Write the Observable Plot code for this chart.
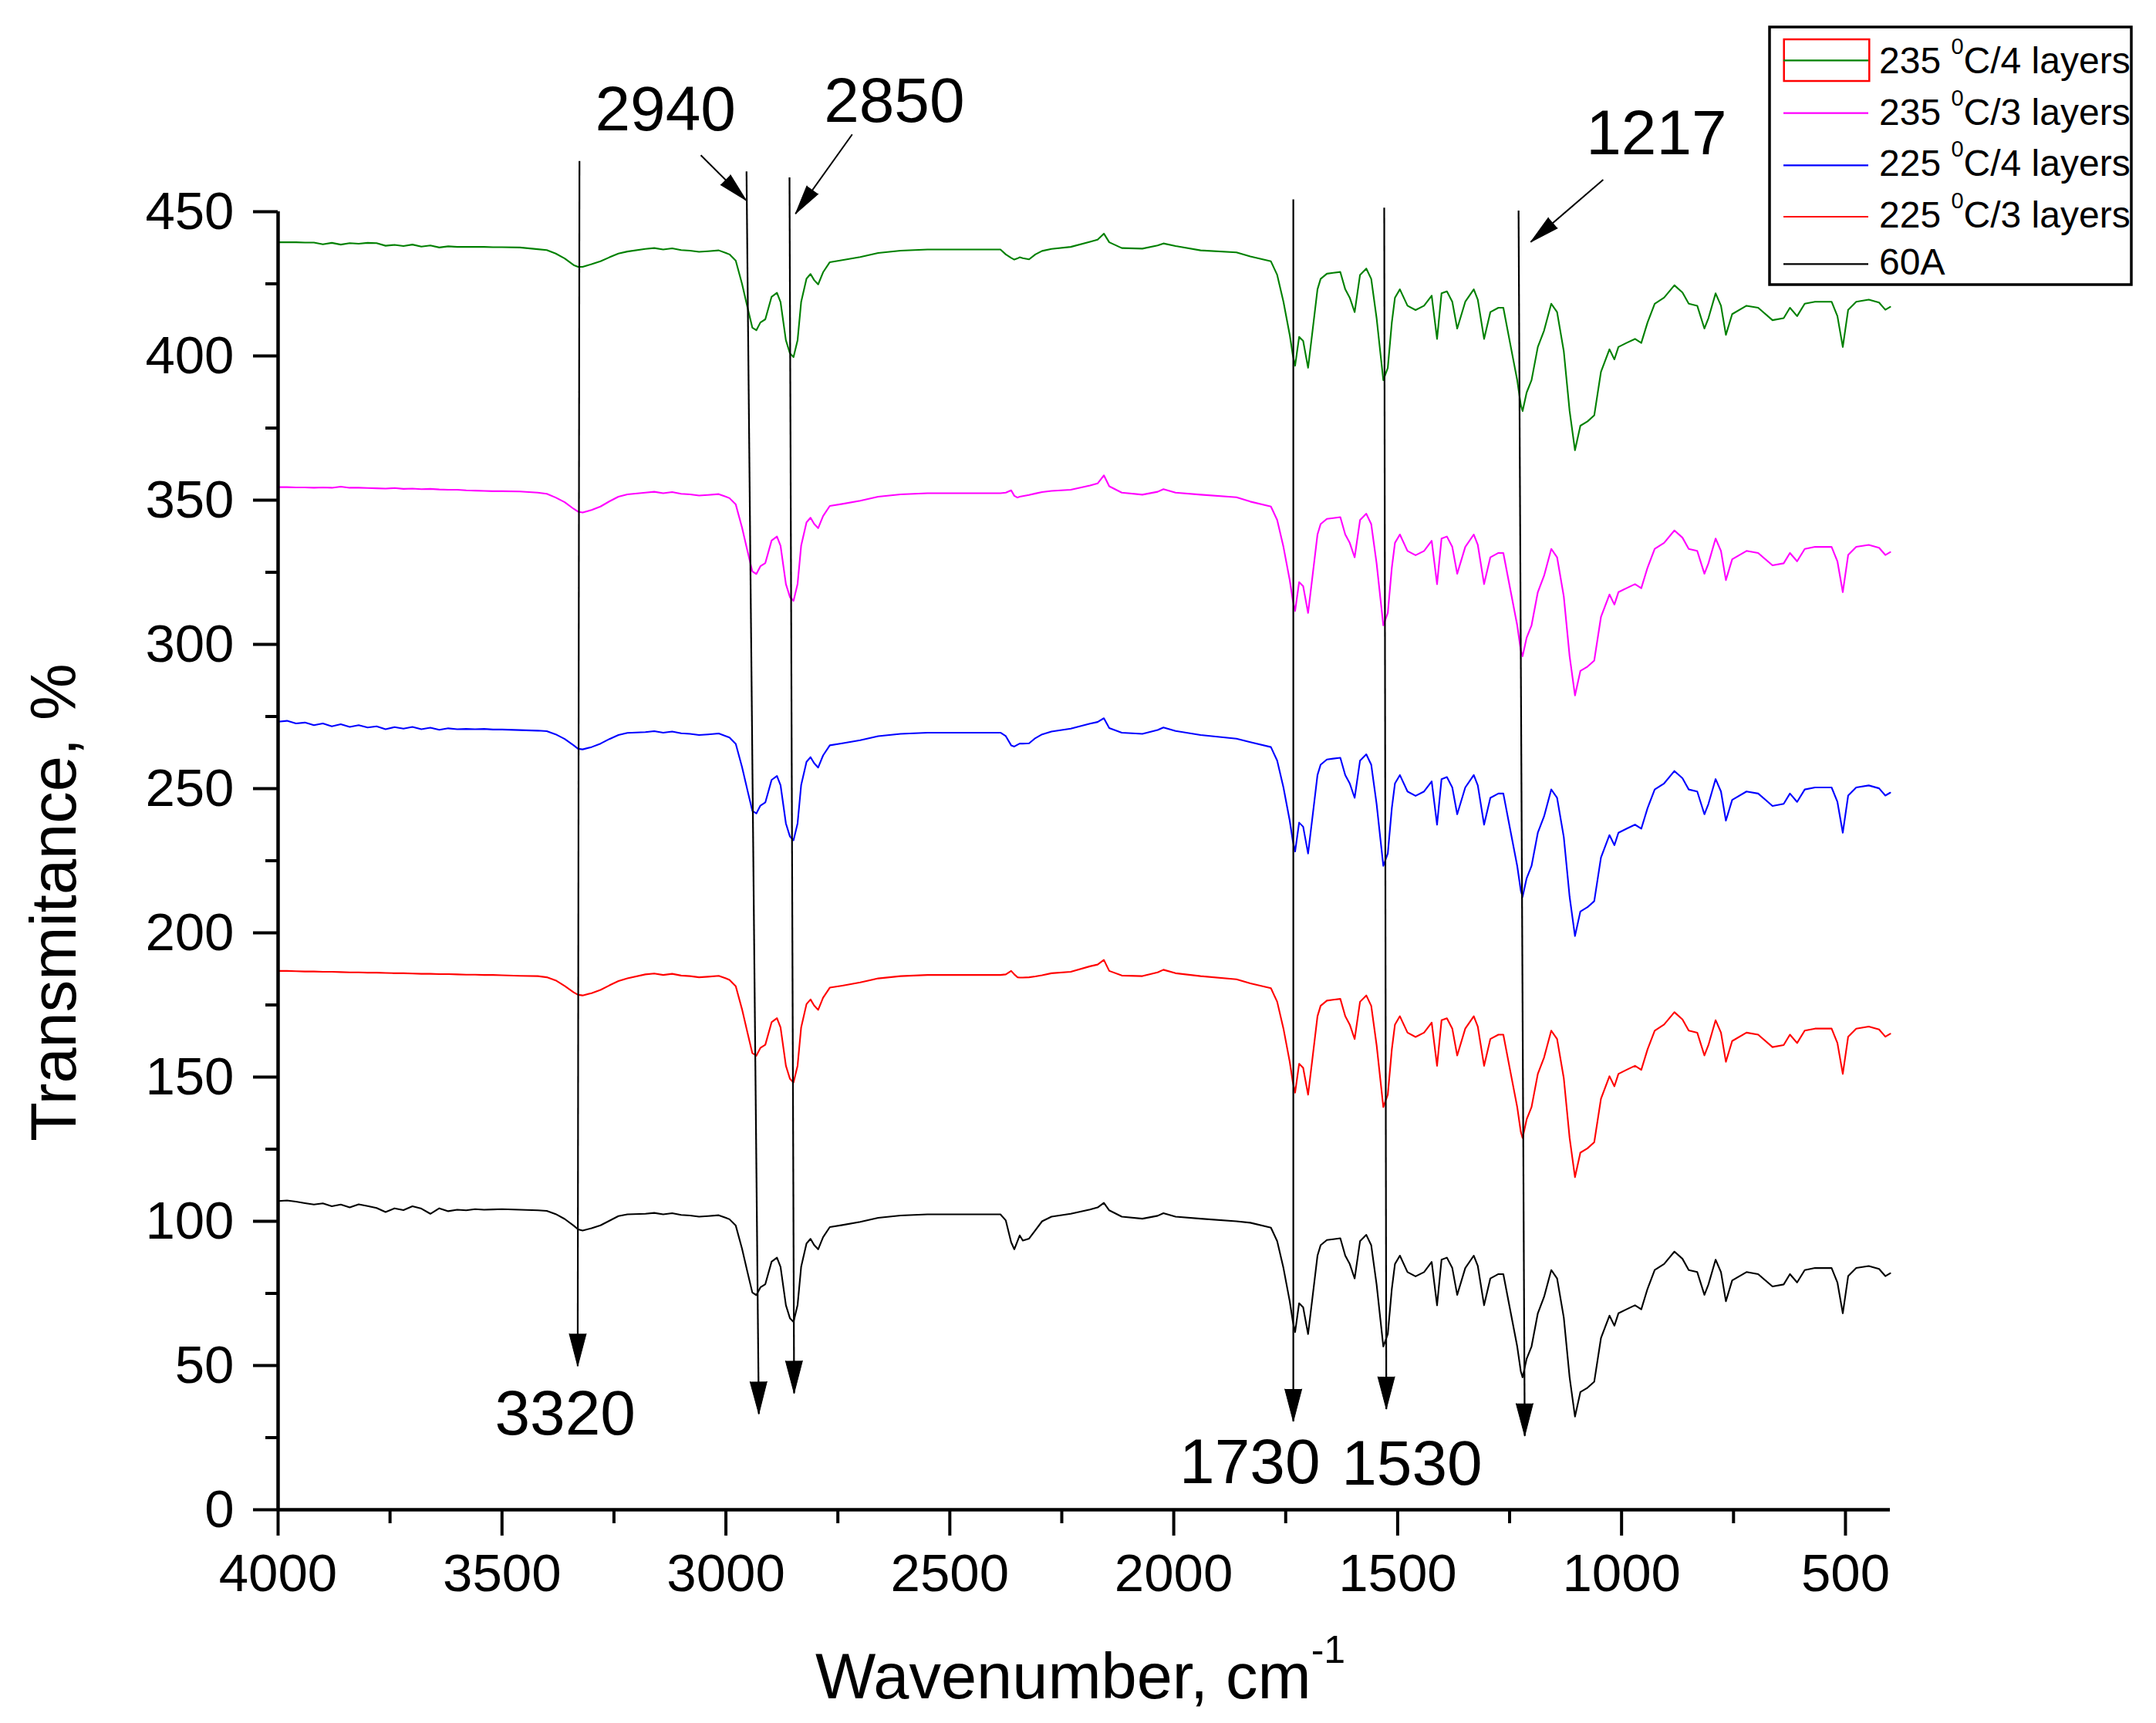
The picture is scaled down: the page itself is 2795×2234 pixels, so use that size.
<!DOCTYPE html>
<html>
<head>
<meta charset="utf-8">
<script src="https://cdn.jsdelivr.net/npm/d3@7"></script>
<script src="https://cdn.jsdelivr.net/npm/@observablehq/plot@0.6"></script>
<style>
  html, body { margin: 0; padding: 0; background: #ffffff; }
  #chart { width: 2795px; height: 2234px; }
</style>
</head>
<body>
<div id="chart"></div>
<script>
// ---------------- data ----------------
const wavenumbers = [
  4000,3980,3960,3940,3920,3900,3880,3860,3840,3820,3800,3780,3760,3740,3720,3700,3680,3660,3640,3620,3600,3580,3560,3540,3520,3500,3460,3420,3400,3380,3360,3340,3330,3320,3300,3280,3260,3240,3220,
  3180,3160,3140,3120,3100,3080,3060,3040,3016,3000,2992,2978,2964,2952,2941,2932,2923,2912,2898,2886,2878,2866,2857,2849,2840,2832,2820,2811,2803,2794,2783,2768,2740,2700,2660,2610,2550,2387,
  2375,2363,2356,2349,2344,2337,2323,2309,2294,2273,
  2230,2187,2170,2156,2144,2116,2070,2036,2023,1996,1940,1860,
  1829,1783,1769,1755,1741,1734,1729,1720,1711,1700,1690,1679,1672,1658,1644,1628,1617,1607,1596,1584,1570,1559,1547,1538,1532,1522,1513,1506,1495,1478,
  1460,1441,1424,1412,1402,1390,1378,1367,1349,1330,1321,1307,1293,1275,1264,1249,1233,1225,1221,1212,1201,1187,1173,1157,1144,1129,1116,1104,1092,1076,
  1061,1046,1027,1016,1007,989,970,956,942,926,905,882,864,850,831,815,806,790,778,767,753,721,695,663,638,624,608,591,568,531,518,506,494,476,448,425,411,400
];

const t235x4 = [
  439.4,439.4,439.4,439.3,439.3,438.7,439.2,438.6,439.1,438.9,439.2,439.1,438.2,438.5,438.1,438.6,437.9,438.3,437.6,438.0,437.8,437.8,437.8,437.8,437.7,437.7,437.6,437.0,436.7,435.5,433.8,431.5,430.9,430.9,431.8,432.8,434.2,435.5,436.2,
  437.1,437.4,436.9,437.3,436.7,436.5,436.1,436.3,436.6,435.7,435.2,433.0,425.0,417.0,409.8,408.9,411.6,412.7,420.5,421.9,418.7,405.4,400.9,399.6,405.4,418.7,426.8,428.4,426.3,424.8,429.0,432.5,433.2,434.3,435.7,436.5,436.9,436.9,
  435.2,434.0,433.4,433.8,434.2,433.9,433.5,435.2,436.4,437.1,
  437.8,439.6,440.3,442.4,439.4,437.4,437.2,438.3,439.0,438.1,436.6,435.9,
  434.5,432.8,428.1,418.8,407.3,400.2,396.6,406.6,405.2,395.9,408.8,423.1,426.7,428.5,428.8,429.1,423.1,420.2,415.2,428.1,430.3,426.7,413.1,400.2,391.6,395.9,411.6,420.2,423.1,417.4,
  415.9,417.4,420.9,405.9,421.7,422.4,418.8,409.5,418.8,423.1,419.5,405.9,415.2,416.7,416.7,404.5,391.6,383.0,380.9,387.3,391.6,403.1,408.8,418.1,415.2,401.6,380.9,367.3,375.8,377.3,
  379.4,394.5,402.3,398.8,403.1,404.5,405.9,404.5,411.6,418.1,420.2,424.5,422.0,418.1,417.4,409.5,413.1,421.7,417.4,407.3,414.5,417.4,416.7,412.4,413.1,416.7,413.8,418.1,418.8,418.8,413.8,403.1,416.0,418.8,419.5,418.5,416.0,417.0
];

const t235x3 = [
  354.5,354.5,354.4,354.4,354.3,354.4,354.3,354.7,354.3,354.3,354.2,354.1,354.0,354.2,353.9,354.0,353.8,353.9,353.7,353.6,353.6,353.4,353.3,353.2,353.1,353.1,353.0,352.6,352.2,350.9,349.3,347.0,346.0,345.7,346.6,347.8,349.6,351.2,352.0,
  352.6,352.9,352.4,352.8,352.2,352.0,351.6,351.8,352.1,351.2,350.7,348.5,340.5,332.5,325.3,324.4,327.1,328.2,336.0,337.4,334.2,320.9,316.4,315.1,320.9,334.2,342.3,343.9,341.8,340.3,344.5,348.0,348.7,349.8,351.2,352.0,352.4,352.4,
  352.6,353.4,351.5,350.9,351.2,351.4,351.8,352.3,352.8,353.2,
  353.6,355.1,355.8,358.6,354.8,352.6,351.9,352.9,353.8,352.6,351.9,351.0,
  349.5,347.8,343.1,333.8,322.3,315.2,311.6,321.6,320.2,310.9,323.8,338.1,341.7,343.5,343.8,344.1,338.1,335.2,330.2,343.1,345.3,341.7,328.1,315.2,306.6,310.9,326.6,335.2,338.1,332.4,
  330.9,332.4,335.9,320.9,336.7,337.4,333.8,324.5,333.8,338.1,334.5,320.9,330.2,331.7,331.7,319.5,306.6,298.0,295.9,302.3,306.6,318.1,323.8,333.1,330.2,316.6,295.9,282.3,290.8,292.3,
  294.4,309.5,317.3,313.8,318.1,319.5,320.9,319.5,326.6,333.1,335.2,339.5,337.0,333.1,332.4,324.5,328.1,336.7,332.4,322.3,329.5,332.4,331.7,327.4,328.1,331.7,328.8,333.1,333.8,333.8,328.8,318.1,331.0,333.8,334.5,333.5,331.0,332.0
];

const t225x4 = [
  273.2,273.5,272.6,272.9,272.0,272.6,271.6,272.3,271.4,272.0,271.2,271.6,270.6,271.3,270.8,271.4,270.6,271.1,270.4,270.9,270.6,270.7,270.6,270.7,270.5,270.5,270.3,270.1,269.9,268.8,267.2,265.0,263.8,263.6,264.4,265.6,267.2,268.6,269.3,
  269.6,269.9,269.4,269.8,269.2,269.0,268.6,268.8,269.1,268.2,267.7,265.5,257.5,249.5,242.3,241.4,244.1,245.2,253.0,254.4,251.2,237.9,233.4,232.1,237.9,251.2,259.3,260.9,258.8,257.3,261.5,265.0,265.7,266.8,268.2,269.0,269.4,269.4,
  268.2,265.0,264.6,265.2,265.6,265.6,265.7,267.5,268.8,269.8,
  270.8,272.5,273.1,274.4,271.0,269.4,269.0,270.3,271.2,270.0,268.6,267.3,
  266.1,264.4,259.7,250.4,238.9,231.8,228.2,238.2,236.8,227.5,240.4,254.7,258.3,260.1,260.4,260.7,254.7,251.8,246.8,259.7,261.9,258.3,244.7,231.8,223.2,227.5,243.2,251.8,254.7,249.0,
  247.5,249.0,252.5,237.5,253.3,254.0,250.4,241.1,250.4,254.7,251.1,237.5,246.8,248.3,248.3,236.1,223.2,214.6,212.5,218.9,223.2,234.7,240.4,249.7,246.8,233.2,212.5,198.9,207.4,208.9,
  211.0,226.1,233.9,230.4,234.7,236.1,237.5,236.1,243.2,249.7,251.8,256.1,253.6,249.7,249.0,241.1,244.7,253.3,249.0,238.9,246.1,249.0,248.3,244.0,244.7,248.3,245.4,249.7,250.4,250.4,245.4,234.7,247.6,250.4,251.1,250.1,247.6,248.6
];

const t225x3 = [
  186.8,186.8,186.7,186.6,186.6,186.5,186.5,186.4,186.3,186.3,186.2,186.2,186.1,186.0,186.0,185.9,185.8,185.8,185.7,185.7,185.6,185.5,185.5,185.4,185.4,185.3,185.1,185.0,184.6,183.5,181.6,179.4,178.5,178.3,179.1,180.2,181.8,183.3,184.2,
  185.6,185.9,185.4,185.8,185.2,185.0,184.6,184.8,185.1,184.2,183.7,181.5,173.5,165.5,158.3,157.4,160.1,161.2,169.0,170.4,167.2,153.9,149.4,148.1,153.9,167.2,175.3,176.9,174.8,173.3,177.5,181.0,181.7,182.8,184.2,185.0,185.4,185.4,
  185.6,186.8,185.6,184.6,184.5,184.5,184.6,184.9,185.3,186.0,
  186.5,188.4,189.0,190.6,186.8,185.2,185.0,186.3,187.2,186.0,185.0,183.9,
  182.5,180.8,176.1,166.8,155.3,148.2,144.6,154.6,153.2,143.9,156.8,171.1,174.7,176.5,176.8,177.1,171.1,168.2,163.2,176.1,178.3,174.7,161.1,148.2,139.6,143.9,159.6,168.2,171.1,165.4,
  163.9,165.4,168.9,153.9,169.7,170.4,166.8,157.5,166.8,171.1,167.5,153.9,163.2,164.7,164.7,152.5,139.6,131.0,128.9,135.3,139.6,151.1,156.8,166.1,163.2,149.6,128.9,115.3,123.8,125.3,
  127.4,142.5,150.3,146.8,151.1,152.5,153.9,152.5,159.6,166.1,168.2,172.5,170.0,166.1,165.4,157.5,161.1,169.7,165.4,155.3,162.5,165.4,164.7,160.4,161.1,164.7,161.8,166.1,166.8,166.8,161.8,151.1,164.0,166.8,167.5,166.5,164.0,165.0
];

const t60A = [
  107.0,107.2,106.8,106.3,105.8,106.2,105.2,105.8,104.8,105.9,105.3,104.6,103.2,104.5,103.9,105.2,104.4,102.6,104.5,103.5,104.0,103.8,104.2,104.0,104.1,104.2,104.0,103.8,103.6,102.5,100.8,98.5,97.2,96.8,97.6,98.6,100.2,101.8,102.4,
  102.6,102.9,102.4,102.8,102.2,102.0,101.6,101.8,102.1,101.2,100.7,98.5,90.5,82.5,75.3,74.4,77.1,78.2,86.0,87.4,84.2,70.9,66.4,65.1,70.9,84.2,92.3,93.9,91.8,90.3,94.5,98.0,98.7,99.8,101.2,102.0,102.4,102.4,
  100.3,92.7,90.3,93.1,95.1,93.3,94.0,96.9,100.0,101.6,
  102.6,104.1,104.8,106.4,103.8,101.6,100.9,101.9,102.8,101.6,100.9,100.0,
  99.5,97.8,93.1,83.8,72.3,65.2,61.6,71.6,70.2,60.9,73.8,88.1,91.7,93.5,93.8,94.1,88.1,85.2,80.2,93.1,95.3,91.7,78.1,65.2,56.6,60.9,76.6,85.2,88.1,82.4,
  80.9,82.4,85.9,70.9,86.7,87.4,83.8,74.5,83.8,88.1,84.5,70.9,80.2,81.7,81.7,69.5,56.6,48.0,45.9,52.3,56.6,68.1,73.8,83.1,80.2,66.6,45.9,32.3,40.8,42.3,
  44.4,59.5,67.3,63.8,68.1,69.5,70.9,69.5,76.6,83.1,85.2,89.5,87.0,83.1,82.4,74.5,78.1,86.7,82.4,72.3,79.5,82.4,81.7,77.4,78.1,81.7,78.8,83.1,83.8,83.8,78.8,68.1,81.0,83.8,84.5,83.5,81.0,82.0
];

const seriesTemps  = ["235", "235", "225", "225", null];
const seriesLayers = ["4", "3", "4", "3", null];
const seriesOther  = [null, null, null, null, "60A"];
const seriesValues = [t235x4, t235x3, t225x4, t225x3, t60A];
const seriesColors = ["#008000", "#ff00ff", "#0000ff", "#ff0000", "#000000"];

const xTicksMajor = [4000, 3500, 3000, 2500, 2000, 1500, 1000, 500];
const xTicksMinor = [3750, 3250, 2750, 2250, 1750, 1250, 750];
const yTicksMajor = [0, 50, 100, 150, 200, 250, 300, 350, 400, 450];
const yTicksMinor = [25, 75, 125, 175, 225, 275, 325, 375, 425];

// peak annotations (data units)
const peakLabels  = ["3320", "2940", "2850", "1730", "1530", "1217"];
const labelX      = [3359, 3135, 2624, 1830, 1468, 922];
const labelY      = [26.1, 478.3, 481.2, 9.1, 8.6, 470.0];
const markerTopX  = [3327, 2954, 2858, 1733, 1530, 1230];
const markerTopY  = [467.6, 464.0, 461.9, 454.3, 451.4, 450.4];
const markerTipX  = [3331, 2926.5, 2847.7, 1733, 1525.3, 1216.2];
const markerTipY  = [49.8, 33.2, 40.4, 30.6, 34.9, 25.6];
const pointerFromX = [3056, 2718, 1041];
const pointerFromY = [469.6, 476.8, 461.1];
const pointerToX   = [2954.5, 2844.6, 1202.8];
const pointerToY   = [453.9, 449.3, 439.5];

// ---------------- layout ----------------
const W = 2795, H = 2234;
const mL = 360, mR = 345, mT = 274, mB = 277;
const xDomain = [4000, 400], yDomain = [0, 450];
const FONT = "'Liberation Sans', Arial, Helvetica, sans-serif";

const xs = d3.scaleLinear(xDomain, [mL, W - mR]);
const ys = d3.scaleLinear(yDomain, [H - mB, mT]);
function heading(x1, y1, x2, y2) {
  const dx = xs(x2) - xs(x1), dy = ys(y2) - ys(y1);
  return Math.atan2(dx, -dy) * 180 / Math.PI;
}

const markers = peakLabels.map((l, i) => ({
  x1: markerTopX[i], y1: markerTopY[i], x2: markerTipX[i], y2: markerTipY[i],
  angle: heading(markerTopX[i], markerTopY[i], markerTipX[i], markerTipY[i])
}));
const pointers = pointerFromX.map((v, i) => ({
  x1: pointerFromX[i], y1: pointerFromY[i], x2: pointerToX[i], y2: pointerToY[i],
  angle: heading(pointerFromX[i], pointerFromY[i], pointerToX[i], pointerToY[i])
}));
const labels = peakLabels.map((l, i) => ({text: l, x: labelX[i], y: labelY[i]}));

const lineMarks = seriesValues.map((vals, s) => {
  const rows = wavenumbers.map((w, i) => ({wn: w, t: vals[i]})).filter(d => d.t != null);
  return Plot.line(rows, {x: "wn", y: "t", stroke: seriesColors[s], strokeWidth: 2.1});
});

const plot = Plot.plot({
  width: W, height: H,
  marginLeft: mL, marginRight: mR, marginTop: mT, marginBottom: mB,
  x: {domain: xDomain, label: null},
  y: {domain: yDomain, label: null},
  style: {fontFamily: FONT, fontSize: "69px", background: "#ffffff", color: "#000", overflow: "visible"},
  marks: [
    ...lineMarks,
    Plot.axisX({ticks: xTicksMajor, tickSize: 34, tickPadding: 22, strokeWidth: 4, tickFormat: d => String(d), label: null}),
    Plot.axisX({ticks: xTicksMinor, tickSize: 18, strokeWidth: 4, tickFormat: () => "", label: null}),
    Plot.axisY({ticks: yTicksMajor, tickSize: 32, tickPadding: 25, strokeWidth: 4, tickFormat: d => String(d), label: null}),
    Plot.axisY({ticks: yTicksMinor, tickSize: 16, strokeWidth: 4, tickFormat: () => "", label: null}),
    Plot.ruleX([4000], {y1: 0, y2: 450, strokeWidth: 4.5}),
    Plot.ruleY([0], {x1: 4000, x2: 400, strokeWidth: 4.5}),
    Plot.link(markers, {x1: "x1", y1: "y1", x2: "x2", y2: "y2", stroke: "#000", strokeWidth: 2.2}),
    Plot.link(pointers, {x1: "x1", y1: "y1", x2: "x2", y2: "y2", stroke: "#000", strokeWidth: 2}),
    Plot.vector(markers, {x: "x2", y: "y2", rotate: "angle", length: 42, r: 11, shape: "spike", anchor: "end", fill: "#000", fillOpacity: 1, stroke: "#000", strokeWidth: 1}),
    Plot.vector(pointers, {x: "x2", y: "y2", rotate: "angle", length: 38, r: 9, shape: "spike", anchor: "end", fill: "#000", fillOpacity: 1, stroke: "#000", strokeWidth: 1}),
    Plot.text(labels, {x: "x", y: "y", text: "text", fontSize: 82, textAnchor: "middle", lineAnchor: "bottom", fill: "#000"})
  ]
});

document.getElementById("chart").appendChild(plot);

// ---------------- titles & legend ----------------
const svg = d3.select(plot);

const xt = svg.append("text")
  .attr("x", 1057).attr("y", 2202).attr("text-anchor", "start")
  .attr("font-family", FONT).attr("font-size", 83).attr("fill", "#000");
xt.append("tspan").text("Wavenumber, cm");
xt.append("tspan").attr("font-size", 50).attr("dy", -46).text("-1");

svg.append("text")
  .attr("transform", "translate(98,1170) rotate(-90)")
  .attr("text-anchor", "middle")
  .attr("font-family", FONT).attr("font-size", 83).attr("fill", "#000")
  .text("Transmitance, %");

const lg = svg.append("g").attr("font-family", FONT).attr("fill", "#000").attr("text-anchor", "start");
lg.append("rect").attr("x", 2294).attr("y", 35).attr("width", 469).attr("height", 334)
  .attr("fill", "#fff").attr("stroke", "#000").attr("stroke-width", 3.5);
const lineYs = [78.3, 146.7, 214.3, 281, 342.3];
const baseYs = [95, 161.7, 228.3, 295, 356];
seriesColors.forEach((c, i) => {
  if (i === 0) {
    lg.append("rect").attr("x", 2312.7).attr("y", 51).attr("width", 110.6).attr("height", 54)
      .attr("fill", "none").attr("stroke", "#ff0000").attr("stroke-width", 2.5);
  }
  lg.append("line").attr("x1", 2312).attr("x2", 2422).attr("y1", lineYs[i]).attr("y2", lineYs[i])
    .attr("stroke", c).attr("stroke-width", 2.2);
  const t = lg.append("text").attr("x", 2436).attr("y", baseYs[i]).attr("font-size", 48)
    .attr("text-anchor", "start");
  if (seriesTemps[i] != null) {
    t.append("tspan").text(seriesTemps[i] + " ");
    t.append("tspan").attr("font-size", 29).attr("dy", -25).text("0");
    t.append("tspan").attr("dy", 25).text("C/" + seriesLayers[i] + " layers");
  } else {
    t.text(seriesOther[i]);
  }
});
</script>
</body>
</html>
